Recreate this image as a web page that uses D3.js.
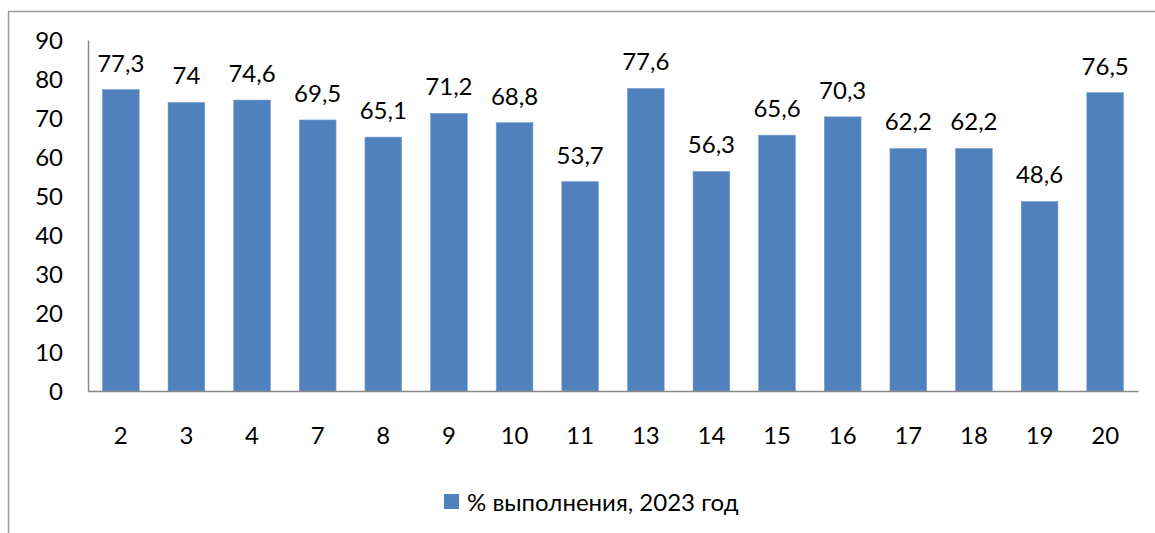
<!DOCTYPE html>
<html>
<head>
<meta charset="utf-8">
<script src="https://cdn.jsdelivr.net/npm/d3@7"></script>
<style>
  body { margin: 0; background: #fff; }
  text { font-family: Lato, "Open Sans", sans-serif; fill: #000; }
</style>
</head>
<body>
<div id="chart"></div>
<script>
const categories = ["2", "3", "4", "7", "8", "9", "10", "11", "13", "14", "15", "16", "17", "18", "19", "20"];
const values = [77.3, 74, 74.6, 69.5, 65.1, 71.2, 68.8, 53.7, 77.6, 56.3, 65.6, 70.3, 62.2, 62.2, 48.6, 76.5];
const yTicks = [0, 10, 20, 30, 40, 50, 60, 70, 80, 90];
const seriesName = "% выполнения, 2023 год";

const W = 1155, H = 533;
const plot = {left: 88, right: 1138, top: 40, bottom: 391};
const fontSize = "24px";

const svg = d3.select("#chart").append("svg")
    .attr("width", W)
    .attr("height", H);

// рамка
svg.append("rect")
    .attr("x", 8.5).attr("y", 11.5)
    .attr("width", W + 10).attr("height", H + 10)
    .attr("fill", "none")
    .attr("stroke", "#9a9a9a")
    .attr("stroke-width", 1.5);

const x = d3.scaleBand()
    .domain(categories)
    .range([plot.left, plot.right])
    .paddingInner(0.44)
    .paddingOuter(0.22);

const y = d3.scaleLinear()
    .domain([0, 90])
    .range([plot.bottom, plot.top]);

const fmt = v => String(v).replace(".", ",");

// оси
const yAxis = svg.append("g")
    .attr("transform", `translate(${plot.left},0)`)
    .call(d3.axisLeft(y).tickValues(yTicks).tickSize(0).tickPadding(25));
yAxis.select(".domain").attr("stroke", "#888").attr("stroke-width", 1.5);
yAxis.selectAll("text").style("font-size", fontSize).attr("dy", "0.36em");

svg.selectAll(".bar")
    .data(values)
    .enter()
    .append("rect")
    .attr("class", "bar")
    .attr("x", (d, i) => x(categories[i]))
    .attr("y", d => y(d))
    .attr("width", x.bandwidth())
    .attr("height", d => y(0) - y(d))
    .attr("fill", "#4f81bd")
    .attr("stroke", "#7ea2d0")
    .attr("stroke-width", 0.6);

const xAxis = svg.append("g")
    .attr("transform", `translate(0,${plot.bottom})`)
    .call(d3.axisBottom(x).tickSize(0).tickPadding(36));
xAxis.select(".domain").attr("stroke", "#888").attr("stroke-width", 1.5);
xAxis.selectAll("text").style("font-size", fontSize).attr("dy", "0.71em");

// подписи значений
svg.selectAll(".label")
    .data(values)
    .enter()
    .append("text")
    .attr("class", "label")
    .attr("x", (d, i) => x(categories[i]) + x.bandwidth() / 2)
    .attr("y", d => y(d) - 18)
    .attr("text-anchor", "middle")
    .style("font-size", fontSize)
    .text(d => fmt(d));

// легенда
const legend = svg.append("g").attr("transform", "translate(444,494)");
legend.append("rect")
    .attr("width", 15).attr("height", 15)
    .attr("fill", "#4f81bd");
legend.append("text")
    .attr("x", 23).attr("y", 8)
    .attr("dy", "0.36em")
    .style("font-size", fontSize)
    .text(seriesName);
</script>
</body>
</html>
